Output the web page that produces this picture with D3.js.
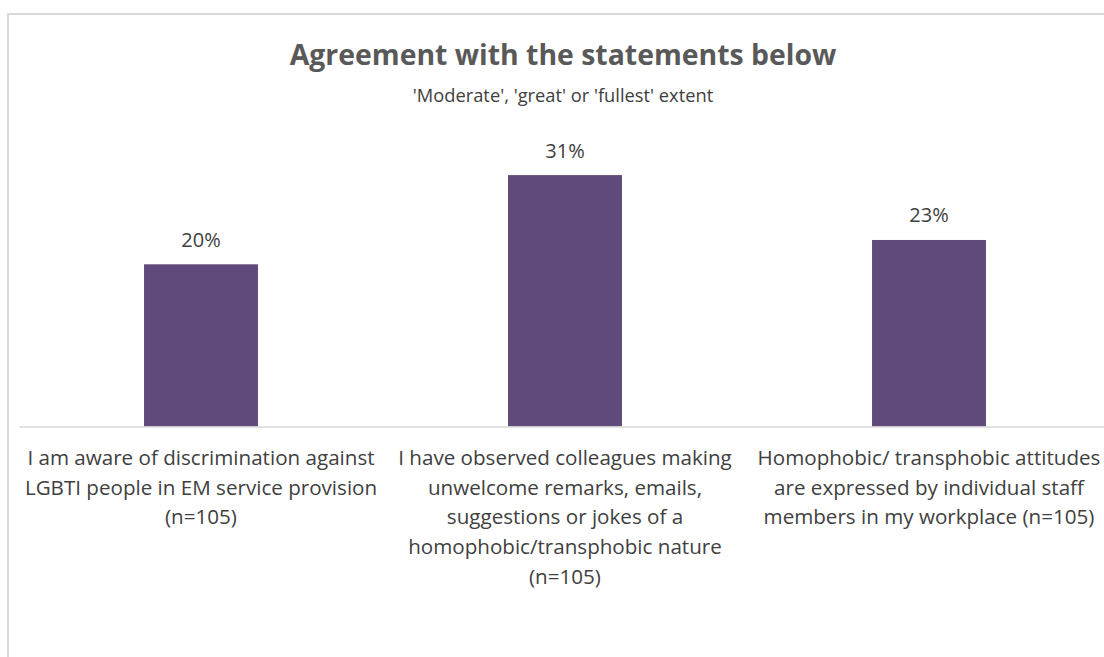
<!DOCTYPE html>
<html>
<head>
<meta charset="utf-8">
<script src="https://cdn.jsdelivr.net/npm/d3@7"></script>
<style>
  html, body { margin: 0; padding: 0; background: #fff; }
  svg { display: block; }
  text { font-family: "Open Sans", sans-serif; }
</style>
</head>
<body>
<svg id="chart" width="1104" height="657"></svg>
<script>
// Survey results: share agreeing to a 'moderate', 'great' or 'fullest' extent
const categories = ["aware", "observed", "attitudes"];
const values = [20, 31, 23];
const categoryLines = [
  ["I am aware of discrimination against", "LGBTI people in EM service provision", "(n=105)"],
  ["I have observed colleagues making", "unwelcome remarks, emails,", "suggestions or jokes of a", "homophobic/transphobic nature", "(n=105)"],
  ["Homophobic/ transphobic attitudes", "are expressed by individual staff", "members in my workplace (n=105)"]
];
const titleText = "Agreement with the statements below";
const subtitleText = "'Moderate', 'great' or 'fullest' extent";

const svg = d3.select("#chart");

// Chart area frame (extends past the right and bottom edges)
svg.append("rect")
  .attr("x", 8).attr("y", 14)
  .attr("width", 1200).attr("height", 800)
  .attr("fill", "#fff").attr("stroke", "#d9d9d9").attr("stroke-width", 2);

const plot = { left: 19, right: 1111, bottom: 426.5 };

const x = d3.scaleBand()
  .domain(categories)
  .range([plot.left, plot.right])
  .paddingInner(0.687)
  .paddingOuter(0.3435);

const y = d3.scaleLinear()
  .domain([0, 40])
  .range([plot.bottom, plot.bottom - 8.11 * 40]);

// Titles
svg.append("text")
  .attr("x", 563).attr("y", 65)
  .attr("text-anchor", "middle")
  .attr("font-size", 28.4).attr("font-weight", 700)
  .attr("fill", "#595959")
  .text(titleText);

svg.append("text")
  .attr("x", 563).attr("y", 102)
  .attr("text-anchor", "middle")
  .attr("font-size", 18.3)
  .attr("fill", "#404040")
  .text(subtitleText);

// Bars
svg.append("g").selectAll("rect")
  .data(values)
  .join("rect")
  .attr("x", (d, i) => x(categories[i]))
  .attr("y", d => y(d))
  .attr("width", x.bandwidth())
  .attr("height", d => y(0) - y(d))
  .attr("fill", "#604a7b");

// Value labels
svg.append("g").selectAll("text")
  .data(values)
  .join("text")
  .attr("x", (d, i) => x(categories[i]) + x.bandwidth() / 2)
  .attr("y", d => y(d) - 17.5)
  .attr("text-anchor", "middle")
  .attr("font-size", 20)
  .attr("fill", "#404040")
  .text(d => d + "%");

// Category axis
const xAxis = d3.axisBottom(x).tickSize(0).tickFormat("");
const axisG = svg.append("g")
  .attr("transform", `translate(0,${plot.bottom})`)
  .call(xAxis);
axisG.select(".domain").attr("stroke", "#d9d9d9").attr("stroke-width", 1.5);

// Wrapped category labels
const labelG = svg.append("g");
categories.forEach((c, i) => {
  const cx = x(c) + x.bandwidth() / 2;
  const t = labelG.append("text")
    .attr("x", cx)
    .attr("y", 465)
    .attr("text-anchor", "middle")
    .attr("font-size", 20.6)
    .attr("fill", "#404040");
  categoryLines[i].forEach((line, j) => {
    t.append("tspan")
      .attr("x", cx)
      .attr("y", 465 + j * 29.7)
      .text(line);
  });
});
</script>
</body>
</html>
